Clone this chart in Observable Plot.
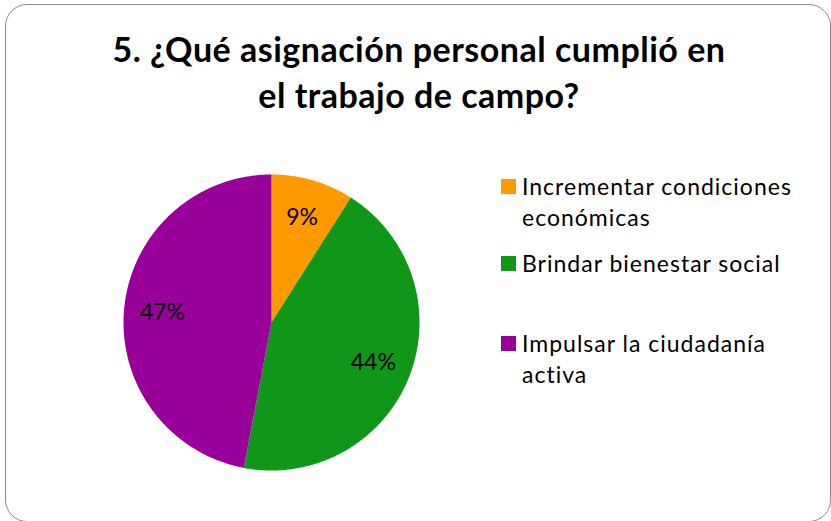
<!DOCTYPE html>
<html>
<head>
<meta charset="utf-8">
<script src="https://cdn.jsdelivr.net/npm/d3@7"></script>
<script src="https://cdn.jsdelivr.net/npm/@observablehq/plot@0.6"></script>
<style>
  html, body { margin: 0; padding: 0; background: #fff; }
  body { width: 831px; height: 521px; overflow: hidden; position: relative; font-family: Lato, "Open Sans", sans-serif; }
  #frame { position: absolute; left: 5px; top: 4px; width: 826px; height: 518px; border: 1.5px solid #8c8c8c; border-radius: 22px; box-sizing: border-box; }
  #title { position: absolute; left: 0; top: 26px; width: 838px; text-align: center; font-weight: 700; font-size: 34px; line-height: 45.5px; color: #000; letter-spacing: 0.5px; }
  #pie { position: absolute; left: 121px; top: 172px; }
  #legend { position: absolute; left: 501px; top: 171px; font-size: 23px; color: #000; letter-spacing: 1px; }
  .item { position: absolute; left: 0; white-space: nowrap; line-height: 31px; }
  .sw { position: absolute; left: 0; width: 15px; height: 15px; }
  .lbl { position: absolute; left: 21px; top: 0; }
</style>
</head>
<body>
<div id="frame"></div>
<div id="title"></div>
<div id="pie"></div>
<div id="legend"></div>
<script>
// ---- data ----
const titleLines = ["5. ¿Qué asignación personal cumplió en", "el trabajo de campo?"];
const categories = ["Incrementar condiciones económicas", "Brindar bienestar social", "Impulsar la ciudadanía activa"];
const legendLines = [["Incrementar condiciones", "económicas"], ["Brindar bienestar social"], ["Impulsar la ciudadanía", "activa"]];
const values = [9, 44, 47];
const colors = ["#ff9900", "#109618", "#990099"];
const legendTops = [0, 77, 157];

// ---- title ----
document.getElementById("title").innerHTML = titleLines.map(t => `<div>${t}</div>`).join("");

// ---- pie geometry from data ----
const arcs = d3.pie().sort(null).value(d => d.value)(categories.map((c, i) => ({cat: c, value: values[i]})));
const polys = [];
arcs.forEach(a => {
  const n = Math.max(2, Math.ceil((a.endAngle - a.startAngle) / 0.01));
  polys.push({cat: a.data.cat, x: 0, y: 0});
  for (let k = 0; k <= n; k++) {
    const t = a.startAngle + (a.endAngle - a.startAngle) * k / n;
    polys.push({cat: a.data.cat, x: Math.sin(t), y: Math.cos(t)});
  }
  polys.push({cat: a.data.cat, x: 0, y: 0});
});
const labels = arcs.map(a => {
  const m = (a.startAngle + a.endAngle) / 2;
  return {text: Math.round(a.data.value) + "%", x: 0.74 * Math.sin(m), y: 0.74 * Math.cos(m)};
});

const chart = Plot.plot({
  width: 300,
  height: 300,
  margin: 2,
  x: {domain: [-1, 1], axis: null},
  y: {domain: [-1, 1], axis: null},
  color: {domain: categories, range: colors},
  marks: [
    Plot.line(polys, {x: "x", y: "y", z: "cat", fill: "cat", stroke: "none", curve: "linear-closed"}),
    Plot.text(labels, {x: "x", y: "y", text: "text", fontSize: 23, fill: "#000", fontFamily: "Lato, sans-serif"})
  ]
});
document.getElementById("pie").appendChild(chart);

// ---- legend ----
const legend = document.getElementById("legend");
categories.forEach((c, i) => {
  const it = document.createElement("div");
  it.className = "item";
  it.style.top = legendTops[i] + "px";
  it.innerHTML = `<div class="sw" style="background:${colors[i]};top:8px"></div><div class="lbl">${legendLines[i].join("<br>")}</div>`;
  legend.appendChild(it);
});
</script>
</body>
</html>
